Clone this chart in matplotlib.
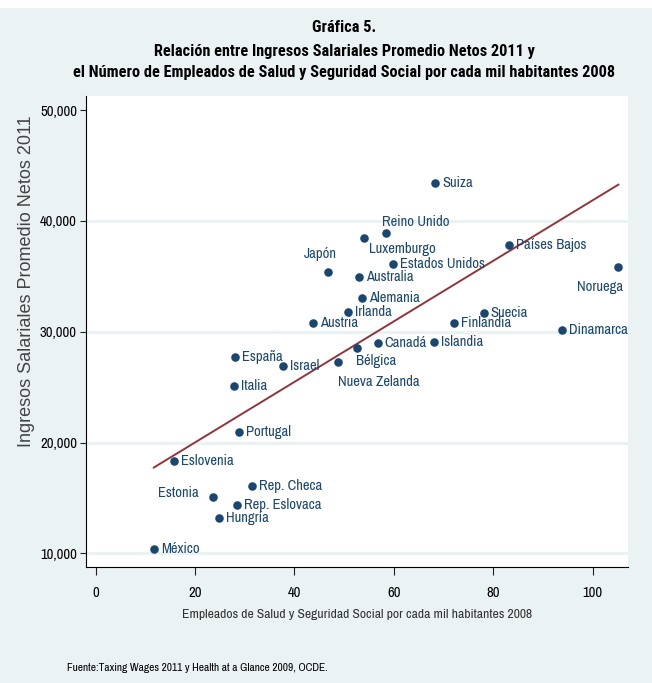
import numpy as np
import matplotlib
matplotlib.use("Agg")
from matplotlib import pyplot as plt
from matplotlib.patches import Rectangle

# Data
paises = ["Suiza", "Reino Unido", "Luxemburgo", "Japón", "Estados Unidos", "Australia",
          "Alemania", "Irlanda", "Austria", "Canadá", "Islandia", "Finlandia", "Bélgica",
          "Nueva Zelanda", "España", "Israel", "Italia", "Países Bajos", "Noruega", "Suecia",
          "Dinamarca", "Portugal", "Eslovenia", "Rep. Checa", "Estonia", "Rep. Eslovaca",
          "Hungría", "México"]
empleados = [68.3, 58.5, 54.1, 46.8, 59.9, 53.0,
             53.6, 50.7, 43.8, 56.8, 68.1, 72.2, 52.6,
             48.7, 28.1, 37.7, 27.8, 83.2, 105.2, 78.1,
             93.8, 28.8, 15.7, 31.5, 23.6, 28.5,
             24.8, 11.7]
ingresos = [43394, 38935, 38457, 35361, 36110, 34910,
            33042, 31805, 30758, 29007, 29043, 30758, 28502,
            27292, 27744, 26931, 25144, 37798, 35866, 31688,
            30153, 20975, 18357, 16074, 15054, 14332,
            13213, 10415]

xticks = [0, 20, 40, 60, 80, 100]
yticks = [10000, 20000, 30000, 40000, 50000]
ytick_labels = ["10,000", "20,000", "30,000", "40,000", "50,000"]

# label placement (offset in points, horizontal alignment); default is to the right
lab_pos = {
    "Reino Unido": ((-3, 8), "left"),
    "Luxemburgo": ((3.5, -8), "left"),
    "Japón": ((-6, 13), "center"),
    "Bélgica": ((-1, -9.5), "left"),
    "Nueva Zelanda": ((0, -14.5), "left"),
    "Noruega": ((3.5, -14.5), "right"),
    "Estonia": ((-10, 3), "right"),
}

navy = "#1a476f"
maroon = "#90353b"
bg = "#eaf2f3"
narrow = ["Arial Narrow", "Liberation Sans Narrow", "Archivo Narrow", "Roboto Condensed",
          "PT Sans Narrow", "Liberation Sans", "DejaVu Sans"]
narrow_bold = ["Roboto Condensed", "PT Sans Narrow", "Archivo Narrow", "Liberation Sans",
               "DejaVu Sans"]

fig = plt.figure(figsize=(6.52, 6.83), dpi=100, facecolor="white")
fig.patches.append(Rectangle((0, 0), 1, 1 - 8 / 683, transform=fig.transFigure,
                             facecolor=bg, edgecolor="none", zorder=-10))
ax = fig.add_axes([86 / 652, 1 - 567 / 683, (628.3 - 86) / 652, (567 - 95.7) / 683])
ax.set_facecolor("white")

# fitted line
b, a = np.polyfit(empleados, ingresos, 1)
xl = np.array([min(empleados), max(empleados)])
ax.plot(xl, a + b * xl, color=maroon, lw=1.4, zorder=2)

ax.scatter(empleados, ingresos, s=38, color=navy, zorder=3, linewidths=0)

for p, xv, yv in zip(paises, empleados, ingresos):
    off, ha = lab_pos.get(p, ((5, 0), "left"))
    ax.annotate(p, (xv, yv), xytext=off, textcoords="offset points", ha=ha, va="center",
                fontsize=10.5, color=navy, family=narrow, zorder=4)

# Decorations
ax.set_xlim(-1.95, 107.2)
ax.set_ylim(8764, 51300)
ax.set_xticks(xticks)
ax.set_xticklabels([str(t) for t in xticks], family=narrow, fontsize=10.5)
ax.set_yticks(yticks)
ax.set_yticklabels(ytick_labels, family=narrow, fontsize=10.5)
ax.tick_params(axis="x", length=6, width=0.8, pad=8, color="#222222")
ax.tick_params(axis="y", length=4.5, width=0.8, pad=2, color="#222222")

ax.yaxis.grid(True, color=bg, lw=2.2, zorder=0)
ax.set_axisbelow(True)
ax.get_ygridlines()[-1].set_visible(False)

ax.spines["top"].set_visible(False)
ax.spines["right"].set_visible(False)
ax.spines["left"].set_linewidth(0.8)
ax.spines["bottom"].set_linewidth(0.8)

ax.set_xlabel("Empleados de Salud y Seguridad Social por cada mil habitantes 2008",
              family=narrow, fontsize=9.8, color="#333333", labelpad=6)
fig.text(27 / 652, 1 - 281 / 683, "Ingresos Salariales Promedio Netos 2011",
         rotation=90, ha="center", va="center", fontsize=13, color="#444444",
         family=["Liberation Sans", "DejaVu Sans"])

tx = 344 / 652
fig.text(tx, 1 - 31.7 / 683, "Gráfica 5.", ha="center", va="baseline",
         fontsize=11.7, fontweight="bold", family=narrow_bold)
fig.text(tx, 1 - 56 / 683, "Relación entre Ingresos Salariales Promedio Netos 2011 y",
         ha="center", va="baseline", fontsize=11.7, fontweight="bold", family=narrow_bold)
fig.text(tx, 1 - 77 / 683,
         "el Número de Empleados de Salud y Seguridad Social por cada mil habitantes 2008",
         ha="center", va="baseline", fontsize=11.7, fontweight="bold", family=narrow_bold)

fig.text(67 / 652, 1 - 671 / 683, "Fuente:Taxing Wages 2011 y Health at a Glance 2009, OCDE.",
         ha="left", va="baseline", fontsize=8.2, family=narrow)

plt.savefig("out.png", dpi=100, facecolor=fig.get_facecolor())
